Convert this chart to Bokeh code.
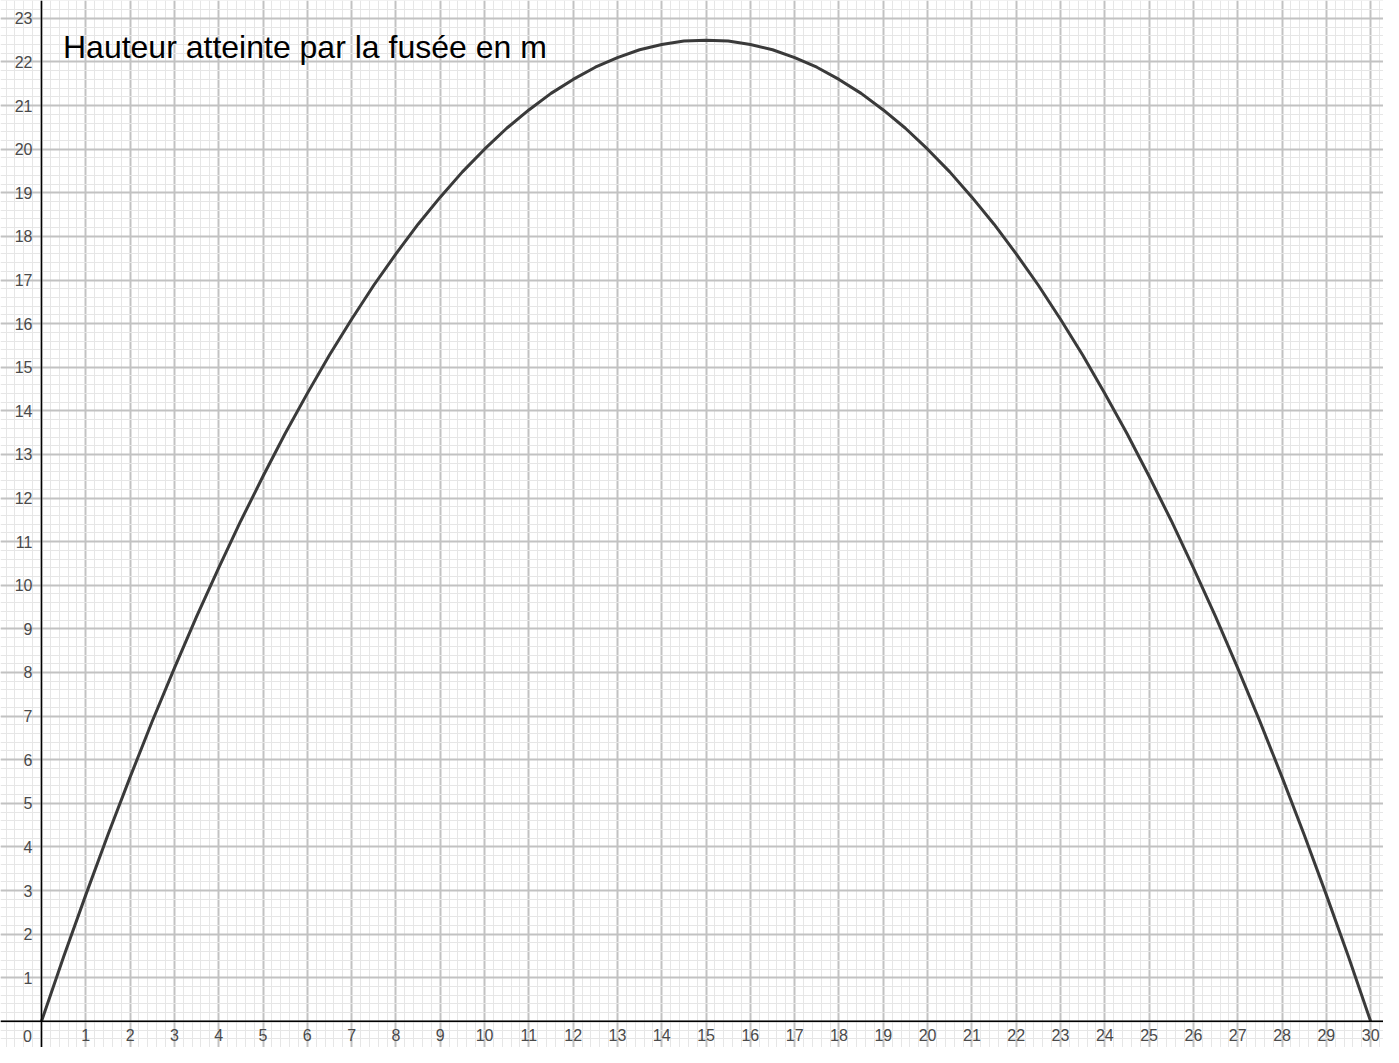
from bokeh.plotting import figure
from bokeh.models import Range1d, SingleIntervalTicker, Span, Label
from bokeh.core.properties import value
from bokeh.embed import file_html
from bokeh.resources import INLINE

# Data: time (s) and height (m)
time_s = [0, 0.5, 1, 1.5, 2, 2.5, 3, 3.5, 4, 4.5, 5, 5.5, 6, 6.5, 7, 7.5,
          8, 8.5, 9, 9.5, 10, 10.5, 11, 11.5, 12, 12.5, 13, 13.5, 14, 14.5,
          15, 15.5, 16, 16.5, 17, 17.5, 18, 18.5, 19, 19.5, 20, 20.5, 21,
          21.5, 22, 22.5, 23, 23.5, 24, 24.5, 25, 25.5, 26, 26.5, 27, 27.5,
          28, 28.5, 29, 29.5, 30]
height_m = [0, 1.48, 2.9, 4.28, 5.6, 6.88, 8.1, 9.28, 10.4, 11.48, 12.5,
            13.48, 14.4, 15.28, 16.1, 16.88, 17.6, 18.28, 18.9, 19.48, 20.0,
            20.48, 20.9, 21.28, 21.6, 21.88, 22.1, 22.28, 22.4, 22.48, 22.5,
            22.48, 22.4, 22.28, 22.1, 21.88, 21.6, 21.28, 20.9, 20.48, 20.0,
            19.48, 18.9, 18.28, 17.6, 16.88, 16.1, 15.28, 14.4, 13.48, 12.5,
            11.48, 10.4, 9.28, 8.1, 6.88, 5.6, 4.28, 2.9, 1.48, 0]

x_tick_values = list(range(1, 31))
x_tick_labels = [str(v) for v in x_tick_values]
y_tick_values = list(range(1, 24))
y_tick_labels = [str(v) for v in y_tick_values]
origin_label = ["0"]
title_text = "Hauteur atteinte par la fusée en m"

p = figure(width=1383, height=1047, output_backend="svg", toolbar_location=None,
           x_range=Range1d(-0.925, 30.29), y_range=Range1d(-0.6, 23.41),
           min_border=0, tools="")
p.outline_line_color = None
p.axis.visible = False
p.background_fill_color = "white"
p.border_fill_color = "white"

for g in (p.xgrid, p.ygrid):
    g.ticker = SingleIntervalTicker(interval=1, num_minor_ticks=5)
    g.grid_line_color = "#c2c2c2"
    g.grid_line_width = 2
    g.minor_grid_line_color = "#e6e6e6"
    g.minor_grid_line_width = 1

p.add_layout(Span(location=0, dimension="height", line_color="black", line_width=1.5))
p.add_layout(Span(location=0, dimension="width", line_color="black", line_width=1.5))

p.line(time_s, height_m, line_color="#3a3a3a", line_width=3, line_join="round")

font = value("Liberation Sans")
p.text(x=x_tick_values, y=[0] * len(x_tick_values), text=x_tick_labels,
       text_align="center", text_baseline="top", y_offset=8,
       text_font=font, text_font_size="16px", text_color="#4a4a4a")
p.text(x=[0] * len(y_tick_values), y=y_tick_values, text=y_tick_labels,
       text_align="right", text_baseline="middle", x_offset=-9,
       text_font=font, text_font_size="16px", text_color="#4a4a4a")
p.text(x=[0], y=[0], text=origin_label, text_align="center",
       text_baseline="middle", x_offset=-14, y_offset=15,
       text_font=font, text_font_size="16px", text_color="#4a4a4a")

p.add_layout(Label(x=0.485, y=22.35, text=title_text, text_align="left",
                   text_baseline="alphabetic", text_font="Liberation Sans",
                   text_font_size="32px", text_color="black"))

open("out.html", "w").write(file_html(p, INLINE))
